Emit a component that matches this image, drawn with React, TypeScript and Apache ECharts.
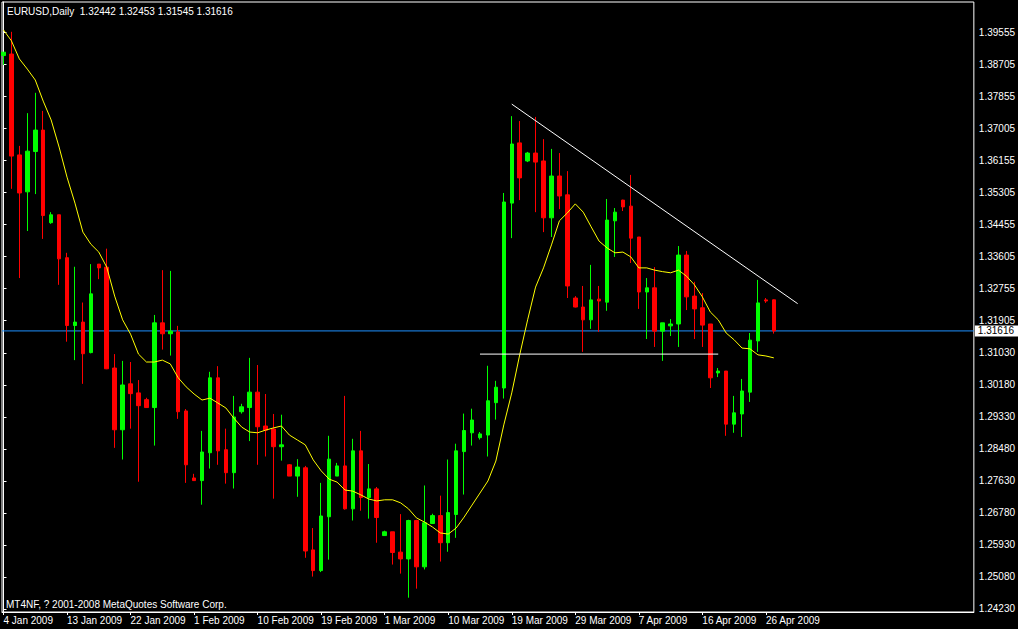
import React, { useEffect, useRef } from "react";
import * as echarts from "echarts";

// ---- data (EURUSD daily, bar 0 = 4 Jan 2009) ----
const opens = [
  1.3893, 1.3897, 1.3629, 1.3531, 1.3638, 1.3695, 1.3449, 1.3470, 1.3356, 1.3176,
  1.3185, 1.3104, 1.3339, 1.3331, 1.3063, 1.2899, 1.3021, 1.2997, 1.2979, 1.2958,
  1.3183, 1.3154, 1.3159, 1.2949, 1.2771, 1.2764, 1.2838, 1.3037, 1.2846, 1.2785,
  1.2947, 1.2958, 1.2999, 1.2909, 1.2901, 1.2854, 1.2806, 1.2776, 1.2798, 1.2580,
  1.2525, 1.2668, 1.2776, 1.2803, 1.2689, 1.2843, 1.2719, 1.2742, 1.2618, 1.2628,
  1.2574, 1.2556, 1.2658, 1.2535, 1.2650, 1.2671, 1.2599, 1.2674, 1.2841, 1.2891,
  1.2878, 1.2885, 1.2971, 1.3010, 1.3501, 1.3661, 1.3613, 1.3634, 1.3613, 1.3462,
  1.3573, 1.3523, 1.3249, 1.3225, 1.3191, 1.3246, 1.3238, 1.3454, 1.3509, 1.3493,
  1.3411, 1.3265, 1.3276, 1.3161, 1.3175, 1.3180, 1.3363, 1.3254, 1.3223, 1.3180,
  1.3050, 1.3055, 1.2914, 1.2941, 1.2999, 1.3135, 1.3244, 1.32442,
];
const highs = [
  1.3902, 1.3956, 1.3653, 1.3740, 1.3794, 1.3746, 1.3477, 1.3470, 1.3369, 1.3332,
  1.3237, 1.3339, 1.3339, 1.3380, 1.3100, 1.3082, 1.3079, 1.3031, 1.2984, 1.3204,
  1.3323, 1.3321, 1.3175, 1.2954, 1.2782, 1.2896, 1.3053, 1.3068, 1.2902, 1.2989,
  1.2968, 1.3090, 1.3071, 1.2994, 1.2941, 1.2939, 1.2808, 1.2821, 1.2803, 1.2638,
  1.2758, 1.2883, 1.2811, 1.2989, 1.2875, 1.2896, 1.2808, 1.2747, 1.2631, 1.2628,
  1.2675, 1.2660, 1.2660, 1.2751, 1.2676, 1.2724, 1.2820, 1.2862, 1.2942, 1.2955,
  1.2893, 1.3069, 1.3029, 1.3528, 1.3732, 1.3719, 1.3637, 1.3730, 1.3671, 1.3645,
  1.3634, 1.3586, 1.3254, 1.3281, 1.3337, 1.3281, 1.3512, 1.3488, 1.3510, 1.3576,
  1.3411, 1.3302, 1.3331, 1.3183, 1.3193, 1.3387, 1.3374, 1.3292, 1.3262, 1.3180,
  1.3063, 1.3055, 1.2989, 1.3034, 1.3156, 1.3297, 1.3249, 1.32453,
];
const lows = [
  1.3868, 1.3539, 1.3302, 1.3427, 1.3525, 1.3406, 1.3446, 1.3284, 1.3133, 1.3084,
  1.3021, 1.3102, 1.3299, 1.3060, 1.2851, 1.2820, 1.2902, 1.2761, 1.2957, 1.2857,
  1.3112, 1.3096, 1.2928, 1.2758, 1.2763, 1.2700, 1.2796, 1.2806, 1.2756, 1.2743,
  1.2942, 1.2869, 1.2806, 1.2828, 1.2716, 1.2817, 1.2776, 1.2721, 1.2559, 1.2509,
  1.2521, 1.2554, 1.2776, 1.2687, 1.2658, 1.2684, 1.2663, 1.2599, 1.2617, 1.2541,
  1.2517, 1.2453, 1.2477, 1.2528, 1.2649, 1.2549, 1.2575, 1.2612, 1.2727, 1.2857,
  1.2873, 1.2828, 1.2926, 1.2982, 1.3408, 1.3509, 1.3610, 1.3477, 1.3424, 1.3411,
  1.3485, 1.3249, 1.3224, 1.3106, 1.3167, 1.3159, 1.3215, 1.3358, 1.3480, 1.3342,
  1.3220, 1.3140, 1.3119, 1.3082, 1.3148, 1.3119, 1.3217, 1.3140, 1.3119, 1.3010,
  1.3039, 1.2883, 1.2891, 1.2880, 1.2973, 1.3106, 1.3236, 1.31545,
];
const closes = [
  1.3902, 1.3626, 1.3528, 1.3639, 1.3695, 1.3468, 1.3470, 1.3353, 1.3176, 1.3185,
  1.3101, 1.3260, 1.3329, 1.3061, 1.2899, 1.3018, 1.2995, 1.2963, 1.2958, 1.3183,
  1.3154, 1.3161, 1.2947, 1.2806, 1.2764, 1.2840, 1.3037, 1.2843, 1.2785, 1.2933,
  1.2960, 1.2999, 1.2907, 1.2898, 1.2854, 1.2859, 1.2776, 1.2800, 1.2577, 1.2525,
  1.2670, 1.2821, 1.2803, 1.2689, 1.2843, 1.2719, 1.2742, 1.2666, 1.2628, 1.2573,
  1.2556, 1.2658, 1.2535, 1.2652, 1.2671, 1.2599, 1.2679, 1.2843, 1.2897, 1.2925,
  1.2888, 1.2976, 1.3012, 1.3504, 1.3658, 1.3568, 1.3634, 1.3610, 1.3462, 1.3573,
  1.3520, 1.3281, 1.3225, 1.3191, 1.3244, 1.3241, 1.3456, 1.3477, 1.3491, 1.3408,
  1.3265, 1.3276, 1.3161, 1.3183, 1.3180, 1.3363, 1.3252, 1.3220, 1.3177, 1.3037,
  1.3055, 1.2914, 1.2944, 1.3002, 1.3137, 1.3236, 1.3241, 1.31616,
];
// yellow moving average, read bar by bar
const maValues = [
  1.3961, 1.3932, 1.3884, 1.3857, 1.3828, 1.3772, 1.3722, 1.3650, 1.3570, 1.3501,
  1.3424, 1.3392, 1.3371, 1.3331, 1.3254, 1.3191, 1.3153, 1.3100, 1.3079, 1.3079,
  1.3084, 1.3074, 1.3037, 1.3013, 1.2994, 1.2978, 1.2983, 1.2970, 1.2957, 1.2930,
  1.2906, 1.2893, 1.2891, 1.2898, 1.2904, 1.2909, 1.2885, 1.2872, 1.2859, 1.2819,
  1.2790, 1.2768, 1.2760, 1.2739, 1.2736, 1.2726, 1.2715, 1.2710, 1.2713, 1.2713,
  1.2705, 1.2689, 1.2665, 1.2654, 1.2641, 1.2625, 1.2622, 1.2638, 1.2667, 1.2699,
  1.2731, 1.2763, 1.2816, 1.2912, 1.2997, 1.3098, 1.3191, 1.3278, 1.3329, 1.3390,
  1.3454, 1.3475, 1.3499, 1.3477, 1.3438, 1.3400, 1.3382, 1.3369, 1.3371, 1.3358,
  1.3329, 1.3329, 1.3323, 1.3319, 1.3316, 1.3323, 1.3307, 1.3284, 1.3252, 1.3212,
  1.3191, 1.3156, 1.3138, 1.3116, 1.3114, 1.3098, 1.3095, 1.3090,
];
const dateTicks = [0, 8, 16, 24, 32, 40, 48, 56, 64, 72, 80, 88, 96];
const dateLabels = [
  "4 Jan 2009", "13 Jan 2009", "22 Jan 2009", "1 Feb 2009", "10 Feb 2009",
  "19 Feb 2009", "1 Mar 2009", "10 Mar 2009", "19 Mar 2009", "29 Mar 2009",
  "7 Apr 2009", "16 Apr 2009", "26 Apr 2009",
];
const priceTickLabels = [
  "1.39555", "1.38705", "1.37855", "1.37005", "1.36155", "1.35305", "1.34455",
  "1.33605", "1.32755", "1.31905", "1.31030", "1.30180", "1.29330", "1.28480",
  "1.27630", "1.26780", "1.25930", "1.25080", "1.24230",
];
const lastPrice = 1.31616;
const resistanceLine = [[64, 1.3764], [100, 1.3234]];
const supportLine = [[60, 1.31], [90, 1.31]];
const titleText = "EURUSD,Daily  1.32442 1.32453 1.31545 1.31616";
const copyrightText = "MT4NF, ? 2001-2008 MetaQuotes Software Corp.";

const X_MIN = -0.1875;
const X_MAX = 122.1875;
const BLUE = "#1e90ff";
const FONT = "'Liberation Sans', Arial, sans-serif";
const FS = 10;

export default function App() {
  const ref = useRef<HTMLDivElement>(null);
  useEffect(() => {
    if (!ref.current) return;
    const chart = echarts.init(ref.current, undefined, { renderer: "svg" });
    const candles = opens.map((o, i) => [i, o, closes[i], lows[i], highs[i]]);
    const priceTicks = priceTickLabels.map(Number);
    chart.setOption({
      animation: false,
      backgroundColor: "#000",
      grid: {
        left: 2,
        right: 37,
        top: 2,
        bottom: 17,
        show: true,
        borderColor: "#fff",
        borderWidth: 1,
        backgroundColor: "transparent",
      },
      xAxis: {
        type: "value",
        min: X_MIN,
        max: X_MAX,
        axisLine: { show: true, lineStyle: { color: "#fff", width: 1 } },
        axisTick: {
          show: true,
          length: 3,
          lineStyle: { color: "#fff" },
          customValues: dateTicks,
        },
        axisLabel: {
          show: true,
          color: "#fff",
          fontSize: FS,
          fontFamily: FONT,
          align: "left",
          margin: 3,
          customValues: dateTicks,
          formatter: (v: number) => dateLabels[dateTicks.indexOf(Math.round(v))] ?? "",
        },
        splitLine: { show: false },
      },
      yAxis: {
        type: "value",
        position: "right",
        min: 1.2415,
        max: 1.40352,
        axisLine: { show: true, lineStyle: { color: "#fff", width: 1 } },
        axisTick: {
          show: true,
          length: 3,
          lineStyle: { color: "#fff" },
          customValues: priceTicks,
        },
        axisLabel: {
          show: true,
          color: "#fff",
          fontSize: FS,
          fontFamily: FONT,
          margin: 5,
          customValues: priceTicks,
          formatter: (v: number) => v.toFixed(5),
        },
        splitLine: { show: false },
      },
      graphic: [
        {
          type: "text",
          x: 7,
          y: 11,
          style: {
            text: titleText,
            fill: "#fff",
            fontSize: FS,
            fontFamily: FONT,
            verticalAlign: "middle",
          },
        },
        {
          type: "text",
          x: 6,
          y: 604,
          style: {
            text: copyrightText,
            fill: "#fff",
            fontSize: FS,
            fontFamily: FONT,
            verticalAlign: "middle",
          },
        },
      ],
      series: [
        {
          type: "candlestick",
          data: candles,
          barWidth: 4,
          encode: { x: 0, y: [1, 2, 3, 4] },
          itemStyle: {
            color: "#00ff00",
            color0: "#ff0000",
            borderColor: "#00ff00",
            borderColor0: "#ff0000",
            borderColorDoji: "#00ff00",
            borderWidth: 1,
          },
          emphasis: { disabled: true },
          z: 2,
        },
        {
          type: "line",
          data: [[X_MIN, lastPrice], [X_MAX, lastPrice]],
          color: BLUE,
          symbol: "none",
          lineStyle: { color: BLUE, width: 1 },
          itemStyle: { color: BLUE },
          silent: true,
          z: 2,
          markPoint: {
            silent: true,
            symbol: "rect",
            symbolSize: 0,
            data: [{ coord: [X_MAX, lastPrice] }],
            label: {
              show: true,
              position: "right",
              distance: 1,
              formatter: lastPrice.toFixed(5),
              backgroundColor: "#fff",
              color: "#000",
              fontSize: FS,
              fontFamily: FONT,
              lineHeight: 11,
              padding: [0, 4, 0, 3],
            },
          },
        },
        {
          type: "line",
          data: maValues.map((v, i) => [i, v]),
          symbol: "none",
          lineStyle: { color: "#ffff00", width: 1 },
          silent: true,
          z: 3,
        },
        {
          type: "line",
          data: resistanceLine,
          symbol: "none",
          lineStyle: { color: "#ffffff", width: 1 },
          silent: true,
          z: 4,
        },
        {
          type: "line",
          data: supportLine,
          symbol: "none",
          lineStyle: { color: "#ffffff", width: 1 },
          silent: true,
          z: 4,
        },
      ],
    });
    return () => chart.dispose();
  }, []);
  return (
    <div
      ref={ref}
      style={{ position: "fixed", left: 0, top: 0, width: 1018, height: 629, background: "#000" }}
    />
  );
}
